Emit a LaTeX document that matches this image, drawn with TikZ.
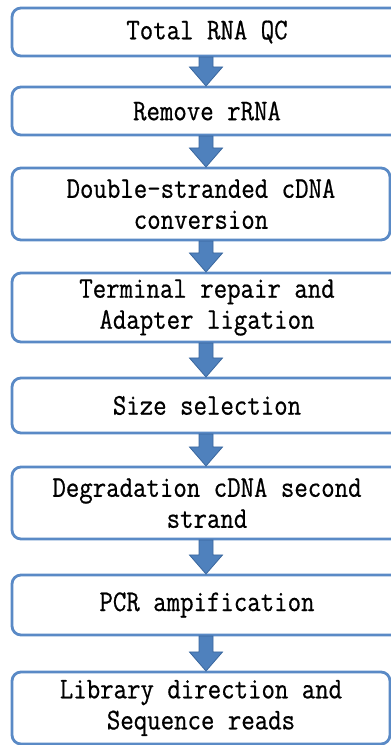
\documentclass[tikz,border=0pt]{standalone}
\usepackage{fontspec}
\setmainfont{Latin Modern Mono}[FakeStretch=0.87, FakeBold=0.6]
\usetikzlibrary{calc}
\definecolor{boxblue}{HTML}{5A8AC6}
\definecolor{arrfill}{HTML}{4F81BD}
\definecolor{arrline}{HTML}{3A679E}
\tikzset{
  stepbox/.style={draw=boxblue, line width=2.8pt, fill=white, rounded corners=9pt,
    align=center, inner sep=0pt,
    font=\fontsize{30}{31}\selectfont},
  blockarrow/.style={fill=arrfill, draw=arrline, line width=0.8pt,
    to path={let \p1=(\tikztostart), \p2=(\tikztotarget) in
      (\x1-7pt,\y1) -- (\x1+7pt,\y1) -- (\x1+7pt,\y2+19pt) -- (\x1+16.5pt,\y2+19pt)
      -- (\x2,\y2) -- (\x1-16.5pt,\y2+19pt) -- (\x1-7pt,\y2+19pt) -- cycle}}
}
\begin{document}
\begin{tikzpicture}[x=1pt,y=1pt]
\useasboundingbox (0,0) rectangle (391,745);
\clip (0,0) rectangle (391,745);
% boxes: left 12, top/bottom in pixels from top
\node[stepbox, minimum width=390pt, minimum height=48pt] (b1) at (207,{745-32}) {Total RNA QC};
\node[stepbox, minimum width=390pt, minimum height=48pt] (b2) at (207,{745-111}) {Remove rRNA};
\node[stepbox, minimum width=378pt, minimum height=72pt] (b3) at (201,{745-204}) {Double-stranded cDNA\\conversion};
\node[stepbox, minimum width=390pt, minimum height=69pt] (b4) at (207,{745-307.5}) {Terminal repair and\\Adapter ligation};
\node[stepbox, minimum width=390pt, minimum height=55pt] (b5) at (207,{745-405.5}) {Size selection};
\node[stepbox, minimum width=390pt, minimum height=72pt] (b6) at (207,{745-503}) {Degradation cDNA second\\strand};
\node[stepbox, minimum width=390pt, minimum height=60pt] (b7) at (207,{745-605}) {PCR ampification};
\node[stepbox, minimum width=378pt, minimum height=72pt] (b8) at (201,{745-708}) {Library direction and\\Sequence reads};
% arrows
\coordinate (a1s) at (206,{745-57});  \coordinate (a1e) at (206,{745-86});
\coordinate (a2s) at (206,{745-136}); \coordinate (a2e) at (206,{745-167});
\coordinate (a3s) at (206,{745-241}); \coordinate (a3e) at (206,{745-272});
\coordinate (a4s) at (206,{745-343}); \coordinate (a4e) at (206,{745-377});
\coordinate (a5s) at (206,{745-434}); \coordinate (a5e) at (206,{745-466});
\coordinate (a6s) at (206,{745-540}); \coordinate (a6e) at (206,{745-574});
\coordinate (a7s) at (206,{745-636}); \coordinate (a7e) at (206,{745-671});
\foreach \i in {1,...,7} {
  \path[blockarrow] (a\i s) to (a\i e);
}
\end{tikzpicture}
\end{document}
